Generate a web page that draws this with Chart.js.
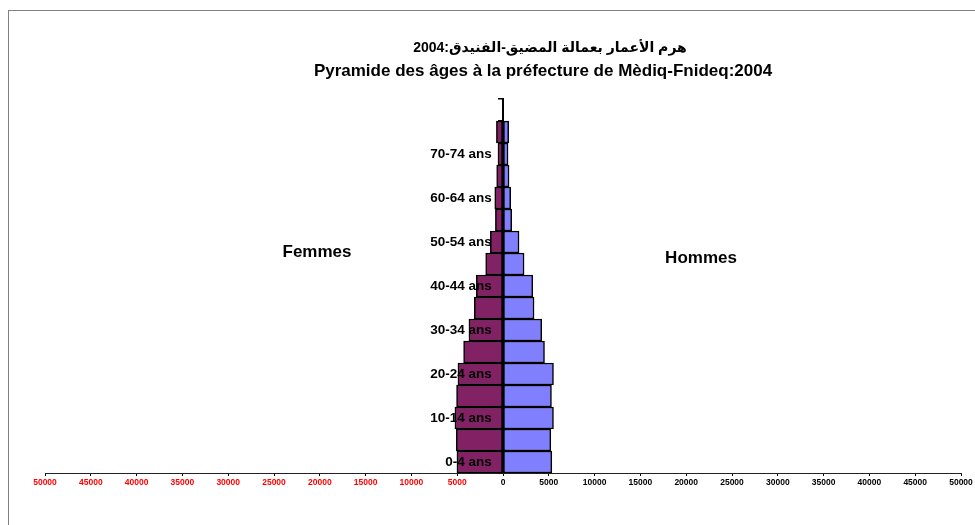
<!DOCTYPE html>
<html lang="fr">
<head>
<meta charset="utf-8">
<title>Pyramide des âges - Mèdiq-Fnideq 2004</title>
<script src="https://cdn.jsdelivr.net/npm/chart.js@4.4.1/dist/chart.umd.min.js"></script>
<style>
    html, body { margin: 0; padding: 0; background: #fff; overflow: hidden; }
    #boxCadre {
        position: absolute; left: 8px; top: 10px;
        width: 1200px; height: 800px;
        border: 1.5px solid #808080;
    }
    #boxChart { position: absolute; left: 0; top: 0; width: 975px; height: 525px; }
</style>
</head>
<body>
<div id="boxCadre"></div>
<div id="boxChart"><canvas id="graficoPyramide" width="975" height="525"></canvas></div>
<script>
// Tranches d'âge (de bas en haut), la dernière est vide comme dans l'original
const tranches = ['0-4 ans', '5-9 ans', '10-14 ans', '15-19 ans', '20-24 ans', '25-29 ans', '30-34 ans',
    '35-39 ans', '40-44 ans', '45-49 ans', '50-54 ans', '55-59 ans', '60-64 ans', '65-69 ans',
    '70-74 ans', '75 ans et +', ''];

// Effectifs
const dadosFemmes = [5030, 5100, 5250, 5070, 4920, 4300, 3720, 3130, 2910, 1890, 1380, 830, 900, 690, 550, 720];
const dadosHommes = [5330, 5220, 5510, 5290, 5510, 4530, 4230, 3390, 3250, 2300, 1750, 950, 840, 660, 550, 620];

// Les femmes à gauche (valeurs négatives)
const femmesGauche = dadosFemmes.map(v => -v);

const tituloAr = 'هرم الأعمار بعمالة المضيق-الفنيدق:2004';
const tituloFr = 'Pyramide des âges à la préfecture de Mèdiq-Fnideq:2004';

// Titres et libellés Femmes / Hommes
const textosPlugin = {
    id: 'textos',
    afterDraw(chart) {
        const ctx = chart.ctx;
        ctx.save();
        ctx.fillStyle = '#000';
        ctx.textAlign = 'center';
        ctx.textBaseline = 'middle';
        ctx.direction = 'rtl';
        ctx.font = 'bold 14px "Liberation Sans", Arial, "DejaVu Sans", sans-serif';
        ctx.fillText(tituloAr, 550, 48);
        ctx.direction = 'ltr';
        ctx.font = 'bold 17px "Liberation Sans", Arial, sans-serif';
        ctx.fillText(tituloFr, 543, 71);
        ctx.fillText('Femmes', 317, 252);
        ctx.fillText('Hommes', 701, 258);
        ctx.restore();
    }
};

const ctxPyr = document.getElementById('graficoPyramide');

const chart = new Chart(ctxPyr, {
    type: 'bar',
    data: {
        labels: tranches,
        datasets: [{
            label: 'Femmes',
            data: femmesGauche,
            backgroundColor: '#822264',
            borderColor: '#000000',
            borderWidth: 1.5,
            borderSkipped: false
        }, {
            label: 'Hommes',
            data: dadosHommes,
            backgroundColor: '#8080FF',
            borderColor: '#000000',
            borderWidth: 1.5,
            borderSkipped: false
        }]
    },
    options: {
        indexAxis: 'y',
        responsive: false,
        animation: false,
        categoryPercentage: 1,
        barPercentage: 1,
        layout: {
            padding: { left: 45, right: 14, top: 99, bottom: 0 }
        },
        scales: {
            x: {
                min: -50000,
                max: 50000,
                afterFit: (s) => { s.height = 52; },
                grid: { drawOnChartArea: false, tickLength: 3, color: '#000' },
                border: { color: '#222', width: 1 },
                ticks: {
                    stepSize: 5000,
                    padding: 2,
                    maxRotation: 0,
                    autoSkip: false,
                    font: { family: '"Liberation Sans", Arial, sans-serif', size: 8.5, weight: 'bold' },
                    color: (c) => c.tick.value < 0 ? '#FF0000' : '#000000',
                    callback: (v) => Math.abs(v)
                }
            },
            y: {
                stacked: true,
                reverse: true,
                position: { x: 0 },
                grid: { drawOnChartArea: false, tickLength: 4, color: '#000', lineWidth: 1.5, z: 1 },
                border: { color: '#000', width: 2, z: 1 },
                ticks: {
                    z: 1,
                    autoSkip: false,
                    color: '#000',
                    font: { family: '"Liberation Sans", Arial, sans-serif', size: 13.5, weight: 'bold' },
                    // une étiquette sur deux, décalée à gauche de l'axe (le padding n'agit pas ici)
                    callback: function (v, i) { return i % 2 === 0 ? this.getLabelForValue(v) + '   ' : ''; }
                }
            }
        },
        plugins: {
            legend: { display: false },
            tooltip: { enabled: false }
        }
    },
    plugins: [textosPlugin]
});
</script>
</body>
</html>
